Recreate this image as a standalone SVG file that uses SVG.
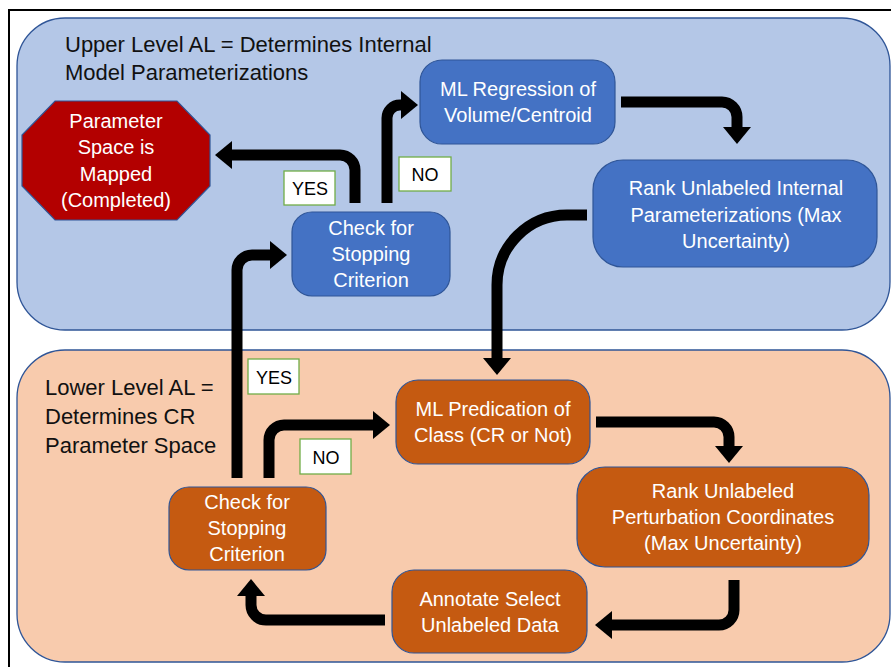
<svg xmlns="http://www.w3.org/2000/svg" width="891" height="667" viewBox="0 0 891 667">
<defs>
<style>
text{font-family:"Liberation Sans","Open Sans",Arial,sans-serif;}
.title{font-size:22px;fill:#111;}
.nt{font-size:20px;fill:#fff;text-anchor:middle;}
.lt{font-size:18px;fill:#000;text-anchor:middle;}
.blue{fill:#4472c4;stroke:#2f5597;stroke-width:1.2;}
.orange{fill:#c55a11;stroke:#2f5597;stroke-width:1.2;}
.lbl{fill:#fff;stroke:#70ad47;stroke-width:1.3;}
.conn path{fill:none;stroke:#000;stroke-width:11;marker-end:url(#ah);}
</style>
<marker id="ah" markerUnits="userSpaceOnUse" markerWidth="18" markerHeight="28" viewBox="0 0 18 28" refX="1" refY="14" orient="auto">
<path d="M0,0 L17,14 L0,28 z" fill="#000"/>
</marker>
</defs>
<rect width="891" height="667" fill="#fff"/>
<path d="M9,667 V10 H891" fill="none" stroke="#000" stroke-width="2"/>

<g id="upper-panel">
<rect x="17" y="18" width="873" height="312" rx="48" fill="#b4c7e7" stroke="#2f5597" stroke-width="1.3"/>
<text class="title" x="65" y="52">Upper Level AL = Determines Internal</text>
<text class="title" x="65" y="80">Model Parameterizations</text>
</g>
<g id="lower-panel">
<rect x="17" y="350" width="873" height="312" rx="48" fill="#f8cbad" stroke="#2f5597" stroke-width="1.3"/>
<text class="title" x="45" y="395">Lower Level AL =</text>
<text class="title" x="45" y="424">Determines CR</text>
<text class="title" x="45" y="453">Parameter Space</text>
</g>

<g class="conn" id="connectors">
<path d="M355,203 V170 A15,15 0 0 0 340,155 H231"/>
<path d="M387,203 V118 A13,13 0 0 1 400,105 H402"/>
<path d="M237,478 V270 A15,15 0 0 1 252,255 H271"/>
<path d="M621,102 H722 A15,15 0 0 1 737,117 V128"/>
<path d="M587,215 H567 A70,70 0 0 0 497,285 V359"/>
<path d="M269,478 V440 A15,15 0 0 1 284,425 H374"/>
<path d="M596,422 H714 A15,15 0 0 1 729,437 V447"/>
<path d="M734,580 V610 A15,15 0 0 1 719,625 H611"/>
<path d="M385,620 H266 A15,15 0 0 1 251,605 V595"/>
</g>

<g id="completed">
<polygon points="55,101 177,101 210,135 210,186 177,220 55,220 22,186 22,135" fill="#b30000" stroke="#2f5597" stroke-width="1.2"/>
<text class="nt" x="116" y="128">Parameter</text>
<text class="nt" x="116" y="154">Space is</text>
<text class="nt" x="116" y="181">Mapped</text>
<text class="nt" x="116" y="207">(Completed)</text>
</g>
<g id="check-upper">
<rect class="blue" x="292" y="212" width="158" height="84" rx="20"/>
<text class="nt" x="371" y="235">Check for</text>
<text class="nt" x="371" y="261">Stopping</text>
<text class="nt" x="371" y="287">Criterion</text>
</g>
<g id="ml-regression">
<rect class="blue" x="420" y="60" width="195" height="84" rx="22"/>
<text class="nt" x="518" y="96">ML Regression of</text>
<text class="nt" x="518" y="122">Volume/Centroid</text>
</g>
<g id="rank-internal">
<rect class="blue" x="593" y="160" width="284" height="107" rx="30"/>
<text class="nt" x="736" y="195">Rank Unlabeled Internal</text>
<text class="nt" x="736" y="222">Parameterizations (Max</text>
<text class="nt" x="736" y="248">Uncertainty)</text>
</g>
<g id="yes-upper">
<rect class="lbl" x="284" y="171" width="51" height="34"/>
<text class="lt" x="310" y="195">YES</text>
</g>
<g id="no-upper">
<rect class="lbl" x="399" y="157" width="52" height="34"/>
<text class="lt" x="425" y="181">NO</text>
</g>

<g id="yes-lower">
<rect class="lbl" x="248" y="359" width="51" height="35"/>
<text class="lt" x="274" y="384">YES</text>
</g>
<g id="no-lower">
<rect class="lbl" x="300" y="439" width="51" height="35"/>
<text class="lt" x="326" y="464">NO</text>
</g>
<g id="check-lower">
<rect class="orange" x="169" y="487" width="157" height="83" rx="20"/>
<text class="nt" x="247" y="509">Check for</text>
<text class="nt" x="247" y="535">Stopping</text>
<text class="nt" x="247" y="561">Criterion</text>
</g>
<g id="ml-prediction">
<rect class="orange" x="396" y="380" width="194" height="84" rx="22"/>
<text class="nt" x="493" y="416">ML Predication of</text>
<text class="nt" x="493" y="442">Class (CR or Not)</text>
</g>
<g id="rank-perturbation">
<rect class="orange" x="577" y="467" width="292" height="100" rx="28"/>
<text class="nt" x="723" y="498">Rank Unlabeled</text>
<text class="nt" x="723" y="524">Perturbation Coordinates</text>
<text class="nt" x="723" y="550">(Max Uncertainty)</text>
</g>
<g id="annotate">
<rect class="orange" x="392" y="570" width="195" height="83" rx="22"/>
<text class="nt" x="490" y="606">Annotate Select</text>
<text class="nt" x="490" y="632">Unlabeled Data</text>
</g>
</svg>
